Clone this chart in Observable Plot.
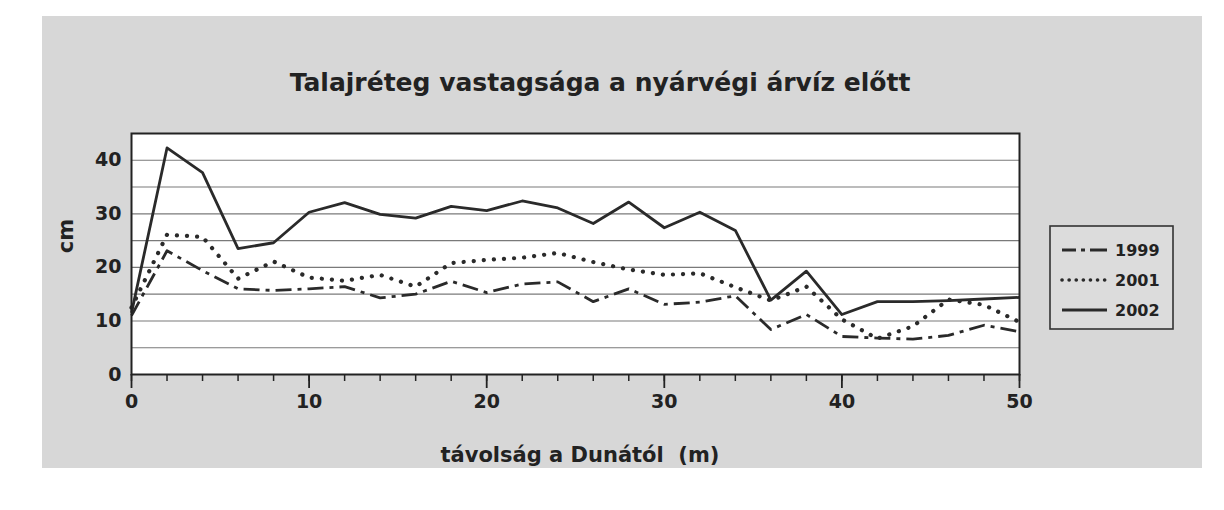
<!DOCTYPE html>
<html>
<head>
<meta charset="utf-8">
<script src="https://cdn.jsdelivr.net/npm/d3@7"></script>
<script src="https://cdn.jsdelivr.net/npm/@observablehq/plot@0.6"></script>
<style>
  html, body { margin: 0; padding: 0; background: #ffffff; }
  #wrap { position: relative; width: 1224px; height: 510px; overflow: hidden; font-family: "DejaVu Sans", Verdana, sans-serif; }
  #panel { position: absolute; left: 42px; top: 16px; width: 1160px; height: 452px; background: #d7d7d7; }
  #title { position: absolute; left: 0; width: 1200px; top: 68px; text-align: center; font-size: 25px; font-weight: bold; color: #222; }
  #xlabel { position: absolute; left: 320px; width: 520px; top: 443px; text-align: center; font-size: 21px; font-weight: bold; color: #222; }
  #ylabel { position: absolute; left: 42px; top: 224px; width: 48px; text-align: center; font-size: 21px; font-weight: bold; color: #222; transform: rotate(-90deg); }
  #chart { position: absolute; left: 0; top: 0; }
  #legend { position: absolute; left: 1049px; top: 225px; }
</style>
</head>
<body>
<div id="wrap">
  <div id="panel"></div>
  <div id="title">Talajréteg vastagsága a nyárvégi árvíz előtt</div>
  <div id="chart"></div>
  <div id="ylabel">cm</div>
  <div id="xlabel">távolság a Dunától&nbsp; (m)</div>
  <div id="legend"></div>
</div>
<script>
// distance from the Danube (m)
const distance = [0, 2, 4, 6, 8, 10, 12, 14, 16, 18, 20, 22, 24, 26, 28, 30, 32, 34, 36, 38, 40, 42, 44, 46, 48, 50];
// soil layer thickness (cm)
const y1999 = [11, 23.1, 19.4, 16.0, 15.7, 16.0, 16.4, 14.3, 15.0, 17.4, 15.3, 16.9, 17.3, 13.6, 16.0, 13.1, 13.5, 14.7, 8.4, 11.2, 7.1, 6.8, 6.6, 7.3, 9.2, 8.0];
const y2001 = [12.5, 26.1, 25.7, 17.9, 21.1, 18.1, 17.5, 18.6, 16.4, 20.8, 21.4, 21.8, 22.7, 21.0, 19.6, 18.6, 18.9, 16.3, 13.8, 16.4, 10.3, 6.7, 9.0, 14.0, 13.0, 9.8];
const y2002 = [11.5, 42.3, 37.7, 23.5, 24.6, 30.3, 32.1, 29.9, 29.2, 31.4, 30.6, 32.4, 31.1, 28.2, 32.2, 27.4, 30.3, 26.9, 13.9, 19.3, 11.2, 13.6, 13.6, 13.8, 14.1, 14.4];
const seriesNames = ["1999", "2001", "2002"];
const xTickLabels = [0, 10, 20, 30, 40, 50];
const yTickLabels = [0, 10, 20, 30, 40];

const seriesValues = [y1999, y2001, y2002];
const styles = {
  "1999": { strokeWidth: 2.8, strokeDasharray: "16,6,4,6", strokeLinecap: "butt" },
  "2001": { strokeWidth: 4.2, strokeDasharray: "0.1,10", strokeLinecap: "round" },
  "2002": { strokeWidth: 2.8, strokeDasharray: null, strokeLinecap: "butt" }
};
const rows = seriesNames.map((name, i) => distance.map((d, j) => ({ series: name, x: d, y: seriesValues[i][j] })));

const lineMarks = rows.map((data, i) => {
  const s = styles[seriesNames[i]];
  const opts = { x: "x", y: "y", stroke: "#2a2a2a", strokeWidth: s.strokeWidth, strokeLinecap: s.strokeLinecap, strokeLinejoin: "round" };
  if (s.strokeDasharray) opts.strokeDasharray = s.strokeDasharray;
  return Plot.line(data, opts);
});

const plot = Plot.plot({
  width: 1224,
  height: 510,
  marginLeft: 131,
  marginRight: 205,
  marginTop: 133,
  marginBottom: 136,
  style: { background: "transparent", fontFamily: "DejaVu Sans, Verdana, sans-serif", fontSize: "19px", fontWeight: "bold", color: "#222" },
  x: { domain: [0, 50] },
  y: { domain: [0, 45] },
  marks: [
    Plot.frame({ fill: "white", stroke: null }),
    Plot.gridY({ ticks: d3.range(5, 46, 5), stroke: "#7a7a7a", strokeOpacity: 1, strokeWidth: 1.1 }),
    ...lineMarks,
    Plot.frame({ stroke: "#222", strokeWidth: 2 }),
    Plot.axisY({ ticks: yTickLabels, tickSize: 0, tickPadding: 10, label: null, fill: "#222" }),
    Plot.axisX({ ticks: distance, tickSize: 7, tickFormat: () => "", label: null, stroke: "#222", strokeWidth: 1.5 }),
    Plot.axisX({ ticks: xTickLabels, tickSize: 14, tickPadding: 6, label: null, stroke: "#222", strokeWidth: 1.8, fill: "#222" })
  ]
});
document.getElementById("chart").appendChild(plot);

// legend
const lg = d3.select("#legend").append("svg").attr("width", 126).attr("height", 106);
lg.append("rect").attr("x", 1).attr("y", 1).attr("width", 123).attr("height", 103)
  .attr("fill", "#dcdcdc").attr("stroke", "#333").attr("stroke-width", 1.6);
seriesNames.forEach((name, i) => {
  const s = styles[name];
  const yy = 25 + i * 30;
  const ln = lg.append("line").attr("x1", 13).attr("x2", 58).attr("y1", yy).attr("y2", yy)
    .attr("stroke", "#2a2a2a").attr("stroke-width", name === "2001" ? 3.6 : s.strokeWidth).attr("stroke-linecap", s.strokeLinecap);
  if (s.strokeDasharray) ln.attr("stroke-dasharray", name === "1999" ? "14,5,4,5,20" : "0.1,7");
  lg.append("text").attr("x", 66).attr("y", yy + 6).text(name)
    .attr("font-family", "DejaVu Sans, Verdana, sans-serif").attr("font-size", 16).attr("font-weight", "bold").attr("fill", "#222");
});
</script>
</body>
</html>
